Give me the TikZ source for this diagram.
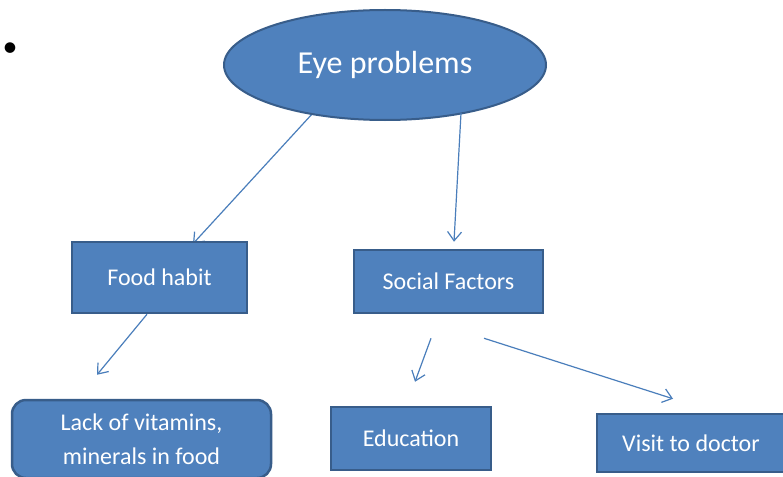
\documentclass[tikz,border=0pt]{standalone}
\usepackage{fontspec}
\setmainfont{Carlito}
\usetikzlibrary{shapes.geometric,arrows.meta,calc,backgrounds}
\definecolor{boxfill}{HTML}{4F81BD}
\definecolor{boxline}{HTML}{385D8A}
\definecolor{linkcol}{HTML}{4A7EBB}

\begin{document}
\begin{tikzpicture}[x=1pt,y=-1pt,
  every node/.style={inner sep=0pt},
  topic/.style={ellipse, fill=boxfill, draw=boxline, line width=2pt, text=white,
    minimum width=322pt, minimum height=110pt, font=\fontsize{32}{38}\selectfont},
  item/.style={rectangle, fill=boxfill, draw=boxline, line width=2.5pt, text=white,
    align=center, font=\fontsize{24}{34}\selectfont},
  link/.style={draw=linkcol, line width=1.2pt, -{Straight Barb[length=9pt,width=14pt]}}]

\useasboundingbox (0,0) rectangle (783,476);

% bullet mark on the left
\node (dot) at (10,50) {\fontsize{30}{30}\selectfont\textbullet};

% central topic and the boxes below it
\node[topic] (eye) at (385,65) {Eye problems};
\node[item, minimum width=175pt, minimum height=71pt] (fh) at (159.5,277.5) {Food habit};
\node[item, minimum width=189pt, minimum height=63pt] (sf) at (448.5,281.5) {Social Factors};
\node[item, rounded corners=14pt, minimum width=259pt, minimum height=78pt] (lack) at (141.5,439) {Lack of vitamins,\\minerals in food};
\node[item, minimum width=160pt, minimum height=63pt] (edu) at (411,438.5) {Education};
\node[item, minimum width=188pt, minimum height=58pt] (doc) at (691,443) {Visit to doctor};

% white page and the connector that runs under a box
\begin{scope}[on background layer]
  \fill[white] (0,0) rectangle (783,476);
  \draw[link] ($(eye.center)+(-72,48)$) -- ($(fh.north)+(33.5,3)$);
\end{scope}
\draw[link] ($(eye.center)+(76,48)$) -- ($(sf.north)+(5.5,-7)$);
\draw[link] ($(fh.south)+(-12.5,0)$) -- ($(lack.north)+(-44.5,-24)$);
\draw[link] ($(sf.south)+(-17.5,24)$) -- ($(edu.north)+(4,-24)$);
\draw[link] ($(sf.south)+(35.5,24)$) -- ($(doc.north)+(-18,-14)$);
\end{tikzpicture}
\end{document}
